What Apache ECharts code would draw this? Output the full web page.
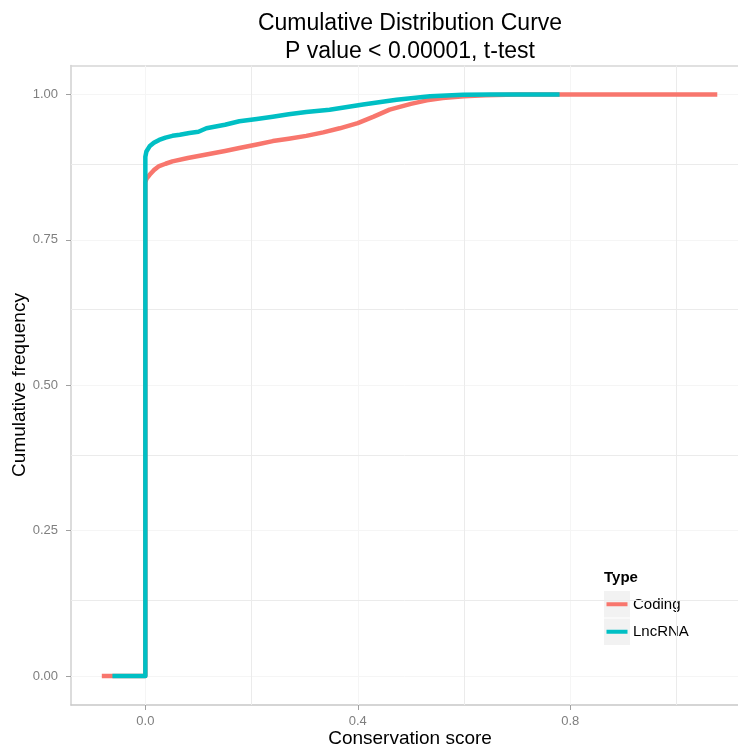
<!DOCTYPE html>
<html>
<head>
<meta charset="utf-8">
<script src="https://cdn.jsdelivr.net/npm/echarts@6/dist/echarts.min.js"></script>
<style>
  html, body { margin: 0; padding: 0; background: #ffffff; }
  #chart { width: 738px; height: 749px; }
</style>
</head>
<body>
<div id="chart"></div>
<script>
// Text
const chartTitle = ['Cumulative Distribution Curve', 'P value < 0.00001, t-test'];
const xAxisTitle = 'Conservation score';
const yAxisTitle = 'Cumulative frequency';
const legendTitle = 'Type';
const seriesNames = ['Coding', 'LncRNA'];
const seriesColors = ['#F8766D', '#00BFC4'];

// Tick positions
const xTicks = [0, 0.4, 0.8];
const xMinorTicks = [0.2, 0.6, 1.0];
const yTicks = [0, 0.25, 0.5, 0.75, 1];
const yMinorTicks = [0.125, 0.375, 0.625, 0.875];

// Empirical CDF of conservation scores, coding genes
const codingScore = [-0.082, 0, 0, 0.002, 0.008, 0.016, 0.026, 0.038, 0.051, 0.08, 0.115, 0.15, 0.177, 0.21, 0.24, 0.27, 0.303, 0.335, 0.366, 0.40, 0.43, 0.46, 0.50, 0.53, 0.56, 0.60, 0.64, 0.70, 1.077];
const codingFreq  = [0, 0, 0.849, 0.855, 0.862, 0.870, 0.877, 0.881, 0.885, 0.891, 0.897, 0.903, 0.908, 0.914, 0.920, 0.924, 0.929, 0.935, 0.942, 0.951, 0.962, 0.974, 0.984, 0.990, 0.994, 0.997, 0.999, 1.0, 1.0];

// Empirical CDF of conservation scores, lncRNA genes
const lncScore = [-0.062, 0, 0, 0.002, 0.008, 0.016, 0.026, 0.038, 0.051, 0.065, 0.083, 0.1, 0.115, 0.15, 0.177, 0.21, 0.24, 0.27, 0.303, 0.347, 0.41, 0.473, 0.536, 0.598, 0.65, 0.78];
const lncFreq  = [0, 0, 0.893, 0.902, 0.911, 0.917, 0.922, 0.926, 0.929, 0.931, 0.934, 0.936, 0.942, 0.948, 0.954, 0.958, 0.962, 0.966, 0.970, 0.974, 0.983, 0.991, 0.997, 0.9995, 1.0, 1.0];

const zip = (xs, ys) => xs.map((x, i) => [x, ys[i]]);

const FONT = '"Liberation Sans", Arial, sans-serif';
// Panel runs past the right edge of the canvas, so the x range is cut at the edge
const panel = { left: 71, top: 65.5, right: 0, bottom: 44 };
const xRange = [-0.14, 1.116];
const yRange = [-0.05, 1.05];
const panelCenterX = 410;

const chart = echarts.init(document.getElementById('chart'), null, { renderer: 'canvas' });

const solid = (color) => ({ color, width: 1, type: 'solid' });
const gridLines = [
  ...xTicks.map(v => ({ xAxis: v, lineStyle: solid('#f5f5f5') })),
  ...yTicks.map(v => ({ yAxis: v, lineStyle: solid('#f5f5f5') })),
  ...xMinorTicks.map(v => ({ xAxis: v, lineStyle: solid('#ebebeb') })),
  ...yMinorTicks.map(v => ({ yAxis: v, lineStyle: solid('#ebebeb') }))
];

const curves = [zip(codingScore, codingFreq), zip(lncScore, lncFreq)];

// Legend keys
const legendX = 604, legendY = 578, keyH = 27.5;
const legendGraphics = [{
  type: 'text', x: legendX, y: legendY,
  style: { text: legendTitle, font: 'bold 15px ' + FONT, fill: '#000', verticalAlign: 'middle' }
}];
seriesNames.forEach((name, i) => {
  const top = legendY + 13 + i * keyH;
  legendGraphics.push(
    { type: 'rect', shape: { x: legendX, y: top, width: 26, height: keyH - 1 }, style: { fill: '#f2f2f2' } },
    { type: 'line', shape: { x1: legendX + 2.5, y1: top + keyH / 2 - 0.5, x2: legendX + 23.5, y2: top + keyH / 2 - 0.5 },
      style: { stroke: seriesColors[i], lineWidth: 4 } },
    { type: 'text', x: legendX + 29, y: top + keyH / 2,
      style: { text: name, font: '15px ' + FONT, fill: '#000', verticalAlign: 'middle' } }
  );
});

const labelStyle = { color: '#7f7f7f', fontSize: 13, fontFamily: FONT };

chart.setOption({
  animation: false,
  backgroundColor: '#ffffff',
  grid: { left: panel.left, top: panel.top, right: panel.right, bottom: panel.bottom, show: false },
  xAxis: [{
    type: 'value', min: xRange[0], max: xRange[1],
    axisLine: { show: true, onZero: false, lineStyle: { color: '#c8c8c8', width: 1.5 } },
    axisTick: { show: true, customValues: xTicks, length: 5, lineStyle: { color: '#a0a0a0' } },
    axisLabel: Object.assign({ customValues: xTicks, formatter: v => v.toFixed(1), margin: 10 }, labelStyle),
    splitLine: { show: false }
  }, {
    // top edge of the panel
    type: 'value', position: 'top', min: xRange[0], max: xRange[1],
    axisLine: { show: true, onZero: false, lineStyle: { color: '#d6d6d6', width: 1.5 } },
    axisTick: { show: false }, axisLabel: { show: false }, splitLine: { show: false }
  }],
  yAxis: {
    type: 'value', min: yRange[0], max: yRange[1],
    axisLine: { show: true, onZero: false, lineStyle: { color: '#d0d0d0', width: 1.5 } },
    axisTick: { show: true, customValues: yTicks, length: 5, lineStyle: { color: '#a0a0a0' } },
    axisLabel: Object.assign({ customValues: yTicks, formatter: v => v.toFixed(2), margin: 13 }, labelStyle),
    splitLine: { show: false }
  },
  graphic: [
    { type: 'text', x: panelCenterX, y: 24,
      style: { text: chartTitle[0], font: '23px ' + FONT, fill: '#000', align: 'center', verticalAlign: 'middle' } },
    { type: 'text', x: panelCenterX, y: 52,
      style: { text: chartTitle[1], font: '23px ' + FONT, fill: '#000', align: 'center', verticalAlign: 'middle' } },
    { type: 'text', x: panelCenterX, y: 739,
      style: { text: xAxisTitle, font: '19px ' + FONT, fill: '#000', align: 'center', verticalAlign: 'middle' } },
    { type: 'text', x: 20, y: 385, rotation: Math.PI / 2,
      style: { text: yAxisTitle, font: '19px ' + FONT, fill: '#000', align: 'center', verticalAlign: 'middle' } },
    ...legendGraphics
  ],
  series: [
    {
      name: 'grid', type: 'line', data: [], silent: true, z: 1,
      markLine: { silent: true, z: 1, symbol: 'none', label: { show: false }, animation: false,
                  lineStyle: { type: 'solid' }, data: gridLines }
    },
    ...seriesNames.map((name, i) => ({
      name, type: 'line', data: curves[i], showSymbol: false, symbol: 'none', z: 10 + i,
      lineStyle: { color: seriesColors[i], width: 4.5, join: 'round', cap: 'butt' },
      itemStyle: { color: seriesColors[i] }
    }))
  ]
});
</script>
</body>
</html>
